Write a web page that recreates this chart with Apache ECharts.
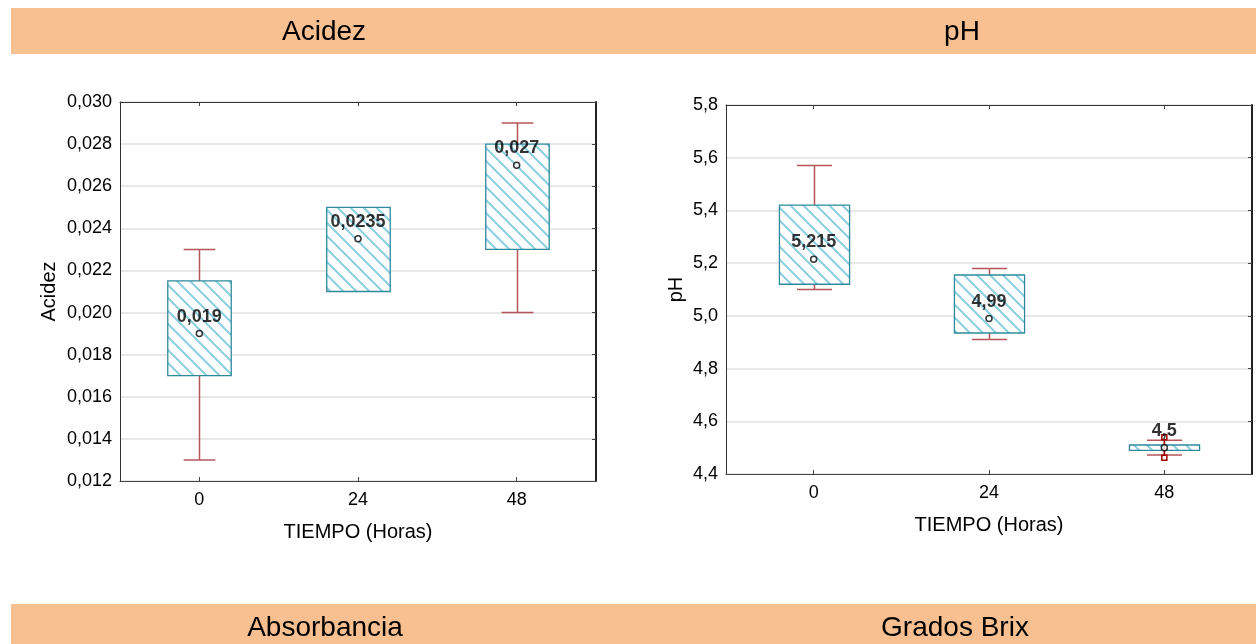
<!DOCTYPE html>
<html><head><meta charset="utf-8">
<script src="https://cdn.jsdelivr.net/npm/echarts@6/dist/echarts.min.js"></script>
<style>html,body{margin:0;padding:0;background:#fff}#c{width:1256px;height:644px}</style>
</head><body><div id="c"></div>
<script>
const categories = ['0', '24', '48'];
// each box: [low whisker, Q1, Q3, high whisker]
const acidezBoxes = [[0.013, 0.017, 0.0215, 0.023], [0.021, 0.021, 0.025, 0.025], [0.020, 0.023, 0.028, 0.029]];
const acidezMeans = [0.019, 0.0235, 0.027];
const acidezTickLabels = ['0,012', '0,014', '0,016', '0,018', '0,020', '0,022', '0,024', '0,026', '0,028', '0,030'];
const phBoxes = [[5.10, 5.12, 5.42, 5.57], [4.91, 4.935, 5.155, 5.18], [4.472, 4.49, 4.51, 4.528]];
const phMeans = [5.215, 4.99, 4.5];
const phOutliers = [[2, 4.539], [2, 4.462]];
const phTickLabels = ['4,4', '4,6', '4,8', '5,0', '5,2', '5,4', '5,6', '5,8'];
const panelTitles = ['Acidez', 'pH', 'Absorbancia', 'Grados Brix'];
const xAxisTitle = 'TIEMPO (Horas)';

const FONT = '"Liberation Sans", Arial, sans-serif';

function makeHatch() {
  const s = 13, c = document.createElement('canvas');
  c.width = s; c.height = s;
  const g = c.getContext('2d');
  g.fillStyle = '#fff'; g.fillRect(0, 0, s, s);
  g.strokeStyle = '#8bcfe2'; g.lineWidth = 2;
  g.beginPath();
  g.moveTo(-2, -2); g.lineTo(s + 2, s + 2);
  g.moveTo(-2, s - 2); g.lineTo(2, s + 2);
  g.moveTo(s - 2, -2); g.lineTo(s + 2, 2);
  g.stroke();
  return c;
}
const hatch = makeHatch();

function boxRender(params, api) {
  const x = api.value(0);
  const lo = api.value(1), q1 = api.value(2), q3 = api.value(3), hi = api.value(4);
  const band = api.size([1, 0])[0];
  const bw = band * 0.4, cw = band * 0.2;
  const pLo = api.coord([x, lo]), pQ1 = api.coord([x, q1]), pQ3 = api.coord([x, q3]), pHi = api.coord([x, hi]);
  const cx = Math.round(pLo[0]) + 0.5;
  const wh = { stroke: '#b5565a', lineWidth: 1.5 };
  const ch = [];
  if (hi > q3) {
    ch.push({ type: 'line', shape: { x1: cx, y1: pHi[1], x2: cx, y2: pQ3[1] }, style: wh });
    ch.push({ type: 'line', shape: { x1: cx - cw / 2, y1: pHi[1], x2: cx + cw / 2, y2: pHi[1] }, style: wh });
  }
  if (lo < q1) {
    ch.push({ type: 'line', shape: { x1: cx, y1: pLo[1], x2: cx, y2: pQ1[1] }, style: wh });
    ch.push({ type: 'line', shape: { x1: cx - cw / 2, y1: pLo[1], x2: cx + cw / 2, y2: pLo[1] }, style: wh });
  }
  ch.push({
    type: 'rect',
    shape: { x: cx - bw / 2, y: pQ3[1], width: bw, height: pQ1[1] - pQ3[1] },
    style: { fill: { image: hatch, repeat: 'repeat' }, stroke: '#2f8a9c', lineWidth: 1.3 }
  });
  return { type: 'group', children: ch };
}

function outlierRender(params, api) {
  const p = api.coord([api.value(0), api.value(1)]);
  const ch = [];
  if (params.dataIndex === 0) {
    const a = api.coord([phOutliers[0][0], phOutliers[0][1]]);
    const b = api.coord([phOutliers[1][0], phOutliers[1][1]]);
    ch.push({ type: 'line', shape: { x1: a[0], y1: a[1], x2: b[0], y2: b[1] }, style: { stroke: '#a01010', lineWidth: 1.5 } });
  }
  ch.push({ type: 'rect', shape: { x: p[0] - 2.5, y: p[1] - 2.5, width: 5, height: 5 }, style: { fill: '#fff', stroke: '#a00000', lineWidth: 1.5 } });
  return { type: 'group', children: ch };
}

const label = (v) => String(v).replace('.', ',');

function xAxes(gi) {
  return [{
    type: 'category', gridIndex: gi, data: categories, position: 'bottom',
    axisLine: { lineStyle: { color: '#444', width: 1 } },
    axisTick: { show: true, inside: true, length: 4, alignWithLabel: true, lineStyle: { color: '#444' } },
    axisLabel: { color: '#000', fontSize: 18, fontFamily: FONT, margin: 10 },
    splitLine: { show: false },
    name: xAxisTitle, nameLocation: 'middle', nameGap: 41,
    nameTextStyle: { color: '#000', fontSize: 20, fontFamily: FONT }
  }, {
    type: 'category', gridIndex: gi, data: categories, position: 'top',
    axisLine: { lineStyle: { color: '#333', width: 1 } },
    axisTick: { show: true, inside: true, length: 4, alignWithLabel: true, lineStyle: { color: '#444' } },
    axisLabel: { show: false }, splitLine: { show: false }
  }];
}
function yAxes(gi, min, max, interval, ticks, name, gap) {
  return [{
    type: 'value', gridIndex: gi, min, max, interval, position: 'left',
    axisLine: { show: true, lineStyle: { color: '#333', width: 1 } },
    axisTick: { show: false },
    axisLabel: { color: '#000', fontSize: 18, fontFamily: FONT, margin: 8,
      formatter: (v) => ticks[Math.round((v - min) / interval)] },
    splitLine: { show: true, lineStyle: { color: '#e0e0e0', width: 1.5 } },
    name, nameLocation: 'middle', nameGap: gap,
    nameTextStyle: { color: '#000', fontSize: 20, fontFamily: FONT }
  }, {
    type: 'value', gridIndex: gi, min, max, interval, position: 'right',
    axisLine: { show: true, lineStyle: { color: '#222', width: 2 } },
    axisTick: { show: true, inside: true, length: 4, lineStyle: { color: '#444' } },
    axisLabel: { show: false }, splitLine: { show: false }
  }];
}

const meanSeries = (xi, yi, data) => ({
  type: 'scatter', xAxisIndex: xi, yAxisIndex: yi, z: 5,
  data: data.map((v, i) => [i, v]),
  symbol: 'circle', symbolSize: 6,
  itemStyle: { color: '#fff', borderColor: '#000', borderWidth: 1.5 },
  label: { show: true, position: 'top', distance: 4, color: '#000', fontSize: 18, fontWeight: 'bold', fontFamily: FONT,
    formatter: (p) => label(p.value[1]) },
  silent: true
});

const chart = echarts.init(document.getElementById('c'), null, { renderer: 'canvas' });
chart.setOption({
  animation: false,
  backgroundColor: '#fff',
  grid: [
    { left: 120, top: 102, width: 476, height: 379 },
    { left: 726, top: 105, width: 526, height: 369 }
  ],
  xAxis: [...xAxes(0), ...xAxes(1)],
  yAxis: [...yAxes(0, 0.012, 0.030, 0.002, acidezTickLabels, 'Acidez', 61),
          ...yAxes(1, 4.4, 5.8, 0.2, phTickLabels, 'pH', 40)],
  series: [
    { type: 'custom', xAxisIndex: 0, yAxisIndex: 0, renderItem: boxRender,
      encode: { x: 0, y: [1, 2, 3, 4] }, data: acidezBoxes.map((b, i) => [i, ...b]), z: 3, silent: true },
    meanSeries(0, 0, acidezMeans),
    { type: 'custom', xAxisIndex: 2, yAxisIndex: 2, renderItem: boxRender,
      encode: { x: 0, y: [1, 2, 3, 4] }, data: phBoxes.map((b, i) => [i, ...b]), z: 3, silent: true },
    { type: 'custom', xAxisIndex: 2, yAxisIndex: 2, renderItem: outlierRender,
      encode: { x: 0, y: 1 }, data: phOutliers, z: 4, silent: true },
    meanSeries(2, 2, phMeans)
  ],
  graphic: [
    { type: 'rect', shape: { x: 11, y: 8, width: 1245, height: 46 }, style: { fill: '#f8c090' }, silent: true, z: -1 },
    { type: 'rect', shape: { x: 11, y: 604, width: 1245, height: 40 }, style: { fill: '#f8c090' }, silent: true, z: -1 },
    { type: 'text', x: 324, y: 32, style: { text: panelTitles[0], fontSize: 28, fontFamily: FONT, fill: '#000', align: 'center', verticalAlign: 'middle' } },
    { type: 'text', x: 962, y: 32, style: { text: panelTitles[1], fontSize: 28, fontFamily: FONT, fill: '#000', align: 'center', verticalAlign: 'middle' } },
    { type: 'text', x: 325, y: 628, style: { text: panelTitles[2], fontSize: 28, fontFamily: FONT, fill: '#000', align: 'center', verticalAlign: 'middle' } },
    { type: 'text', x: 955, y: 628, style: { text: panelTitles[3], fontSize: 28, fontFamily: FONT, fill: '#000', align: 'center', verticalAlign: 'middle' } }
  ]
});
</script></body></html>
